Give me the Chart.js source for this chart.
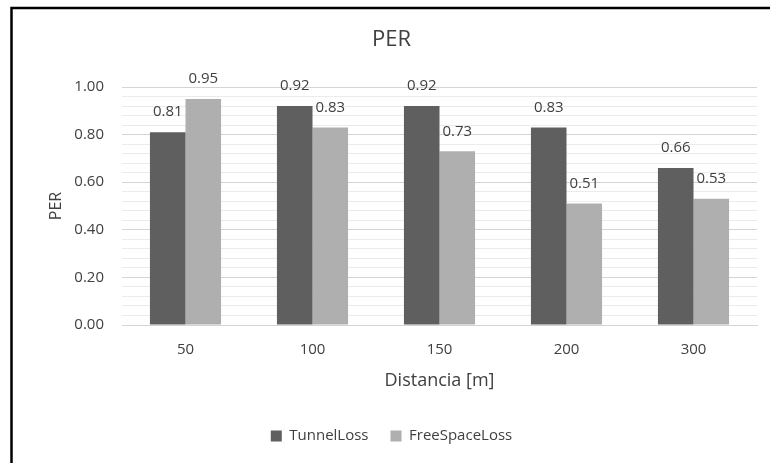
<!DOCTYPE html>
<html>
<head>
<meta charset="utf-8">
<script src="https://cdn.jsdelivr.net/npm/chart.js@4.4.1/dist/chart.umd.min.js"></script>
<style>
  html, body { margin: 0; padding: 0; background: #fff; }
  #wrap { width: 770px; height: 463px; position: relative; }
</style>
</head>
<body>
<div id="wrap"><canvas id="chart"></canvas></div>
<script>
const distances = ['50', '100', '150', '200', '300'];
const tunnelLoss = [0.81, 0.92, 0.92, 0.83, 0.66];
const freeSpaceLoss = [0.95, 0.83, 0.73, 0.51, 0.53];

const colors = {
  tunnel: '#5f5f5f',
  free: '#afafaf',
  major: '#d4d4d4',
  minor: '#ebebeb',
  text: '#404040'
};
const font = 'Open Sans, sans-serif';

// white background plus the partial black frame of the original figure
const framePlugin = {
  id: 'frame',
  beforeDraw(chart) {
    const ctx = chart.ctx;
    ctx.save();
    ctx.fillStyle = '#fff';
    ctx.fillRect(0, 0, chart.width, chart.height);
    ctx.strokeStyle = '#000';
    ctx.lineWidth = 2.5;
    ctx.beginPath();
    ctx.moveTo(11.5, chart.height);
    ctx.lineTo(11.5, 8);
    ctx.lineTo(chart.width, 8);
    ctx.stroke();
    ctx.restore();
  }
};

// value labels above each bar
const valueLabels = {
  id: 'valueLabels',
  afterDatasetsDraw(chart) {
    const ctx = chart.ctx;
    ctx.save();
    ctx.font = '15px ' + font;
    ctx.fillStyle = colors.text;
    ctx.textAlign = 'center';
    ctx.textBaseline = 'middle';
    chart.data.datasets.forEach((ds, i) => {
      chart.getDatasetMeta(i).data.forEach((bar, j) => {
        ctx.fillText(ds.data[j].toFixed(2), bar.x, bar.y - 20);
      });
    });
    ctx.restore();
  }
};

new Chart(document.getElementById('chart'), {
  type: 'bar',
  data: {
    labels: distances,
    datasets: [
      { label: 'TunnelLoss', data: tunnelLoss, backgroundColor: colors.tunnel },
      { label: 'FreeSpaceLoss', data: freeSpaceLoss, backgroundColor: colors.free }
    ]
  },
  options: {
    responsive: true,
    maintainAspectRatio: false,
    animation: false,
    devicePixelRatio: 1,
    categoryPercentage: 0.56,
    barPercentage: 1,
    layout: { padding: { left: 26, right: 13, top: 20, bottom: 9.5 } },
    scales: {
      x: {
        grid: { display: false, drawTicks: false },
        border: { color: colors.major },
        ticks: { color: colors.text, font: { family: font, size: 15 }, padding: 16 },
        title: {
          display: true,
          text: 'Distancia [m]',
          color: colors.text,
          font: { family: font, size: 18 },
          padding: { top: 0, bottom: 14.5 }
        },
        afterFit: (scale) => { scale.height = 81.5; }
      },
      y: {
        min: 0,
        max: 1,
        border: { display: false },
        grid: {
          color: (c) => (Math.round(c.tick.value * 100) % 20 === 0 ? colors.major : colors.minor),
          drawTicks: false
        },
        ticks: {
          stepSize: 0.04,
          maxTicksLimit: 30,
          autoSkip: false,
          padding: 18,
          color: colors.text,
          font: { family: font, size: 15 },
          callback: (v) => (Math.round(v * 100) % 20 === 0 ? v.toFixed(2) : '')
        },
        title: {
          display: true,
          text: 'PER',
          color: colors.text,
          font: { family: font, size: 16 },
          padding: { top: 21, bottom: 0 }
        },
        afterFit: (scale) => { scale.width = 96; }
      }
    },
    plugins: {
      title: {
        display: true,
        text: 'PER',
        color: colors.text,
        font: { family: font, size: 22, weight: 'normal' },
        padding: { top: 7, bottom: 33.6 }
      },
      legend: {
        position: 'bottom',
        labels: {
          color: colors.text,
          font: { family: font, size: 15 },
          boxWidth: 11,
          boxHeight: 11,
          padding: 22
        }
      },
      tooltip: { enabled: false }
    }
  },
  plugins: [framePlugin, valueLabels]
});
</script>
</body>
</html>
